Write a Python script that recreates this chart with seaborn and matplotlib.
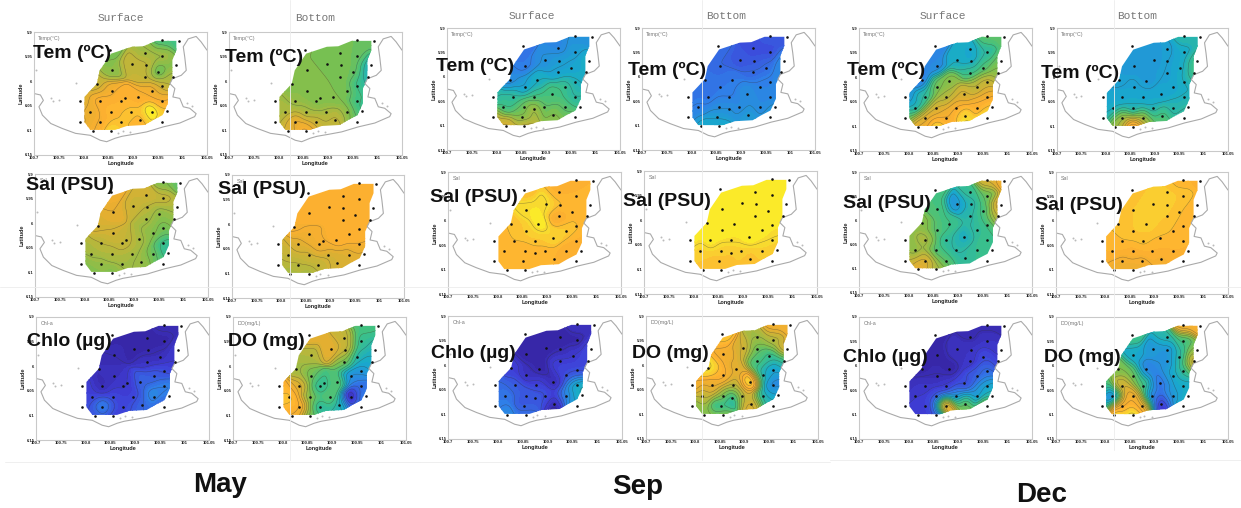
import numpy as np
import seaborn as sns
from matplotlib import pyplot as plt
from matplotlib.lines import Line2D
from matplotlib.patches import Polygon

# Stations (shared, a few moved per cruise)
station_lon = [100.959, 100.993, 100.854, 100.925, 100.959, 100.857, 100.898, 100.926, 100.987, 100.951,
               100.925, 100.981, 100.827, 100.959, 100.857, 100.938, 100.885, 100.911, 100.834, 100.794,
               100.877, 100.959, 100.814, 100.856, 100.896, 100.938, 100.969, 100.834, 100.794, 100.876,
               100.914, 100.959, 100.819, 100.856]
station_lat = [5.917, 5.918, 5.937, 5.942, 5.949, 5.977, 5.966, 5.967, 5.968, 5.981,
               5.991, 5.991, 6.006, 6.010, 6.020, 6.020, 6.035, 6.033, 6.041, 6.041,
               6.041, 6.041, 6.062, 6.062, 6.062, 6.062, 6.061, 6.083, 6.083, 6.083,
               6.078, 6.083, 6.101, 6.101]
moved_sep = {16: (100.883, 6.007), 17: (100.912, 6.035), 27: (100.852, 6.083), 29: (100.876, 6.067)}
moved_dec = {16: (100.883, 6.007), 17: (100.912, 6.035)}

# Sampled area
area_lon = [100.948, 100.988, 100.988, 100.980, 100.980, 100.971, 100.971, 100.960, 100.941, 100.924,
            100.888, 100.864, 100.814, 100.802, 100.802, 100.827, 100.833, 100.856, 100.898, 100.921]
area_lat = [5.918, 5.918, 5.937, 5.957, 5.995, 6.015, 6.045, 6.069, 6.079, 6.089,
            6.091, 6.099, 6.099, 6.083, 6.032, 6.005, 5.978, 5.944, 5.930, 5.929]

coast_lon = [100.700, 100.713, 100.719, 100.710, 100.717, 100.734, 100.757, 100.784, 100.814, 100.834,
             100.847, 100.864, 100.878, 100.901, 100.928, 100.961, 100.995, 101.025, 101.028, 101.015,
             101.002, 100.995, 100.981, 100.985, 100.975, 100.980, 100.998, 101.008, 101.005, 101.002,
             101.012, 101.028, 101.038, 101.050]
coast_lat = [6.025, 6.028, 6.039, 6.052, 6.069, 6.086, 6.096, 6.106, 6.110, 6.120,
             6.123, 6.116, 6.112, 6.108, 6.103, 6.093, 6.085, 6.072, 6.066, 6.055,
             6.052, 6.035, 6.032, 6.015, 6.005, 5.995, 5.988, 5.978, 5.951, 5.930,
             5.914, 5.909, 5.920, 5.937]
islet_lon = [100.735, 100.738, 100.750, 100.784, 100.705, 100.870, 100.880, 100.895, 101.010, 101.020]
islet_lat = [6.035, 6.040, 6.038, 6.004, 5.978, 6.105, 6.102, 6.104, 6.045, 6.050]

# Position on the colour ramp, 0-100, read at each station
may_temp_surface = [52, 50, 58, 65, 66, 62, 72, 72, 60, 54, 72, 68, 72, 72, 84, 85, 88, 86, 87, 76,
                    88, 84, 82, 89, 92, 100, 92, 85, 78, 90, 88, 92, 85, 95]
may_temp_bottom = [58, 56, 60, 60, 57, 60, 60, 60, 40, 57, 60, 42, 60, 48, 60, 60, 60, 60, 64, 66,
                   61, 50, 67, 66, 66, 63, 48, 82, 68, 72, 72, 58, 76, 88]
may_sal_surface = [60, 55, 84, 75, 72, 80, 74, 70, 68, 62, 66, 62, 76, 58, 75, 62, 72, 66, 70, 68,
                   72, 48, 66, 68, 66, 58, 45, 64, 60, 66, 64, 55, 60, 60]
may_sal_bottom = [88, 88, 88, 88, 88, 88, 88, 88, 88, 88, 88, 88, 86, 88, 84, 88, 86, 88, 78, 74,
                  83, 86, 72, 74, 75, 78, 78, 70, 68, 72, 76, 78, 66, 66]
may_chl = [6, 6, 3, 3, 3, 5, 3, 3, 10, 6, 8, 10, 6, 14, 7, 18, 9, 20, 5, 12,
           10, 26, 12, 13, 12, 28, 24, 28, 14, 14, 20, 14, 14, 12]
may_do = [52, 50, 80, 72, 48, 68, 80, 74, 42, 42, 58, 38, 66, 32, 58, 28, 50, 56, 78, 88,
          44, 20, 92, 60, 58, 2, 28, 88, 90, 44, 42, 24, 84, 58]

sep_temp_surface = [30, 30, 22, 27, 34, 24, 30, 34, 40, 36, 36, 38, 28, 40, 34, 50, 40, 52, 46, 44,
                    50, 44, 50, 55, 52, 54, 48, 58, 74, 72, 62, 60, 76, 76]
sep_temp_bottom = [17, 17, 21, 15, 15, 20, 17, 16, 28, 21, 21, 28, 23, 26, 24, 26, 24, 30, 23, 22,
                   24, 26, 26, 28, 27, 28, 32, 34, 26, 32, 34, 32, 38, 40]
sep_sal_surface = [88, 88, 90, 87, 88, 96, 96, 91, 88, 90, 84, 88, 90, 90, 92, 93, 97, 94, 90, 88,
                   92, 87, 89, 88, 89, 86, 88, 88, 88, 88, 88, 88, 88, 88]
sep_sal_bottom = [97, 97, 97, 97, 97, 97, 97, 97, 97, 97, 97, 97, 97, 96, 97, 97, 97, 97, 97, 97,
                  96, 95, 93, 94, 94, 94, 92, 90, 93, 91, 90, 90, 90, 90]
sep_chl = [8, 8, 3, 2, 3, 3, 2, 3, 14, 10, 12, 14, 12, 14, 7, 14, 3, 5, 18, 20,
           12, 40, 24, 18, 16, 26, 42, 16, 24, 18, 3, 36, 28, 24]
sep_do = [84, 84, 92, 66, 68, 84, 76, 56, 80, 48, 52, 44, 96, 34, 88, 42, 78, 98, 82, 86,
          70, 26, 70, 66, 72, 42, 36, 42, 60, 36, 78, 44, 62, 66]

dec_temp_surface = [55, 55, 26, 38, 45, 28, 40, 36, 58, 52, 50, 62, 24, 74, 58, 70, 62, 76, 45, 30,
                    68, 84, 40, 76, 85, 86, 92, 78, 55, 85, 96, 98, 82, 96]
dec_temp_bottom = [44, 44, 32, 34, 38, 33, 32, 35, 50, 38, 35, 50, 34, 40, 36, 36, 33, 37, 37, 36,
                   37, 40, 38, 40, 39, 42, 46, 64, 40, 64, 54, 48, 65, 95]
dec_sal_surface = [76, 84, 52, 48, 56, 52, 32, 42, 82, 52, 44, 70, 62, 50, 54, 46, 50, 40, 68, 62,
                   46, 50, 62, 52, 44, 48, 50, 78, 70, 54, 46, 50, 80, 68]
dec_sal_bottom = [88, 87, 91, 92, 92, 92, 93, 93, 88, 90, 92, 89, 90, 89, 92, 90, 93, 90, 90, 90,
                  91, 89, 88, 87, 88, 88, 87, 84, 86, 84, 85, 87, 82, 83]
dec_chl = [4, 4, 3, 4, 8, 3, 7, 8, 8, 14, 8, 12, 3, 22, 5, 18, 3, 14, 8, 6,
           10, 36, 10, 14, 26, 30, 42, 12, 10, 92, 60, 72, 10, 12]
dec_do = [85, 85, 50, 44, 50, 38, 33, 30, 60, 44, 30, 78, 60, 48, 58, 36, 26, 22, 78, 52,
          50, 38, 22, 86, 25, 32, 40, 85, 40, 82, 8, 40, 98, 99]

ramp_colors = ['#35209a', '#3f3fd8', '#2f7fe8', '#18aacb', '#3cc187', '#7cc04e',
               '#bcb63a', '#e6ae30', '#ffb030', '#f8d830', '#ffff20']
ramp_stops = [0, .12, .25, .38, .5, .6, .7, .8, .88, .95, 1]

x_ticks = [100.7, 100.75, 100.8, 100.85, 100.9, 100.95, 101, 101.05]
x_labels = ['100.7', '100.75', '100.8', '100.85', '100.9', '100.95', '101', '101.05']
y_ticks = [5.9, 5.95, 6, 6.05, 6.1, 6.15]
y_labels = ['5.9', '5.95', '6', '6.05', '6.1', '6.15']

WIDTH, HEIGHT = 1241, 508
SPREAD = 0.013  # gridding radius, degrees

sns.set_theme(style='white')
plt.rcParams['font.family'] = ['Liberation Sans', 'DejaVu Sans']
ramp = sns.blend_palette(ramp_colors, n_colors=256, as_cmap=True)
ramp = ramp.from_list('ramp', list(zip(ramp_stops, ramp_colors)), N=256)

fig = plt.figure(figsize=(WIDTH / 100, HEIGHT / 100), dpi=100)

grid_x, grid_y = np.meshgrid(np.linspace(100.78, 101.0, 160), np.linspace(5.905, 6.11, 150))


def px_text(x, y, s, **kw):
    fig.text(x / WIDTH, 1 - y / HEIGHT, s, **kw)


def gridded(lon, lat, values):
    # weighted mean of the stations, like the gridding behind the original maps
    dist2 = (grid_x[..., None] - np.array(lon)) ** 2 + (grid_y[..., None] - np.array(lat)) ** 2
    weight = np.exp(-dist2 / (2 * SPREAD ** 2)) + 1e-12
    return (weight * np.array(values, dtype=float)).sum(axis=-1) / weight.sum(axis=-1)


def draw_panel(box, values, moved, tag, big_label, label_xy):
    left, right, top, bottom = box
    ax = fig.add_axes([left / WIDTH, 1 - bottom / HEIGHT, (right - left) / WIDTH, (bottom - top) / HEIGHT])

    lon = list(station_lon)
    lat = list(station_lat)
    for i, (a, b) in moved.items():
        lon[i] = a
        lat[i] = b

    z = gridded(lon, lat, values)
    clip = Polygon(list(zip(area_lon, area_lat)), closed=True, transform=ax.transData, fc='none', ec='none')
    ax.add_patch(clip)
    filled = ax.contourf(grid_x, grid_y, z, levels=np.arange(0, 102, 2), cmap=ramp, vmin=0, vmax=100, extend='both')
    filled.set_clip_path(clip)
    lines = ax.contour(grid_x, grid_y, z, levels=np.arange(0, 102, 5), colors='#333333', linewidths=0.35, alpha=0.5)
    lines.set_clip_path(clip)

    ax.plot(coast_lon, coast_lat, color='#aaaaaa', lw=0.8)
    sns.scatterplot(x=islet_lon, y=islet_lat, ax=ax, s=2, color='#bbbbbb', linewidth=0, legend=False)
    sns.scatterplot(x=lon, y=lat, ax=ax, s=3.5, color='#111111', linewidth=0, legend=False, zorder=5)

    ax.set_xlim(100.7, 101.05)
    ax.set_ylim(6.15, 5.9)
    ax.set_xticks(x_ticks, x_labels, fontweight='bold')
    ax.set_yticks(y_ticks, y_labels, fontweight='bold')
    ax.tick_params(labelsize=3, length=1, width=0.3, pad=1, color='#999999', labelcolor='#222222', direction='in')
    ax.set_xlabel('Longitude', fontsize=4, fontweight='bold', labelpad=0.5, color='#222222')
    ax.set_ylabel('Latitude', fontsize=4, fontweight='bold', labelpad=0.5, color='#222222')
    for side in ax.spines.values():
        side.set_color('#c9c9c9')
        side.set_linewidth(0.8)
    ax.text(0.025, 0.945, tag, transform=ax.transAxes, fontsize=3.8, color='#777777', va='center')

    px_text(label_xy[0], label_xy[1], big_label, fontsize=14, fontweight='bold', color='#111111', va='center', zorder=10)


tags = ['Temp(°C)', 'Temp(°C)', 'Sal', 'Sal', 'Chl-a', 'DO(mg/L)']
big_labels = ['Tem (ºC)', 'Tem (ºC)', 'Sal (PSU)', 'Sal (PSU)', 'Chlo (µg)', 'DO (mg)']

may_values = [may_temp_surface, may_temp_bottom, may_sal_surface, may_sal_bottom, may_chl, may_do]
may_boxes = [(34, 207, 32, 155), (229, 402, 32, 155), (35, 208, 174, 297), (232, 404, 175, 298),
             (36, 209, 317, 440), (233, 406, 317, 440)]
may_label_xy = [(33, 53), (225, 57), (26, 185), (218, 189), (27, 342), (228, 342)]

sep_values = [sep_temp_surface, sep_temp_bottom, sep_sal_surface, sep_sal_bottom, sep_chl, sep_do]
sep_boxes = [(447, 620, 28, 150), (642, 815, 28, 150), (448, 621, 172, 294), (644, 817, 171, 294),
             (448, 622, 316, 439), (646, 818, 316, 439)]
sep_label_xy = [(436, 66), (628, 70), (430, 198), (623, 202), (431, 354), (632, 354)]

dec_values = [dec_temp_surface, dec_temp_bottom, dec_sal_surface, dec_sal_bottom, dec_chl, dec_do]
dec_boxes = [(859, 1032, 28, 151), (1057, 1228, 28, 151), (859, 1032, 172, 293), (1056, 1228, 172, 294),
             (859, 1032, 317, 439), (1056, 1228, 317, 439)]
dec_label_xy = [(847, 70), (1041, 73), (843, 203), (1035, 206), (843, 358), (1044, 358)]

# faint seams left over from the pasted figure
for x0, x1, y0, y1 in [(290, 290, 0, 460), (702, 702, 0, 460), (1114, 1114, 0, 450),
                       (0, 1241, 287, 287), (5, 420, 462, 462), (420, 830, 462, 462), (830, 1241, 460, 460)]:
    fig.add_artist(Line2D([x0 / WIDTH, x1 / WIDTH], [1 - y0 / HEIGHT, 1 - y1 / HEIGHT], color='#ececec', lw=0.6))

for values, boxes, label_xy, moved in [(may_values, may_boxes, may_label_xy, {}),
                                       (sep_values, sep_boxes, sep_label_xy, moved_sep),
                                       (dec_values, dec_boxes, dec_label_xy, moved_dec)]:
    for i in range(6):
        draw_panel(boxes[i], values[i], moved, tags[i], big_labels[i], label_xy[i])

for x, y, s in [(121, 18, 'Surface'), (315, 18, 'Bottom'), (532, 16, 'Surface'), (726, 16, 'Bottom'),
                (943, 16, 'Surface'), (1137, 16, 'Bottom')]:
    px_text(x, y, s, fontsize=8, family=['Liberation Mono', 'DejaVu Sans'], color='#777777', ha='center', va='center')

for x, y, s in [(220, 485, 'May'), (638, 487, 'Sep'), (1042, 495, 'Dec')]:
    px_text(x, y, s, fontsize=20, fontweight='bold', color='#111111', ha='center', va='center')

fig.savefig('out.png', dpi=100, facecolor='white')
